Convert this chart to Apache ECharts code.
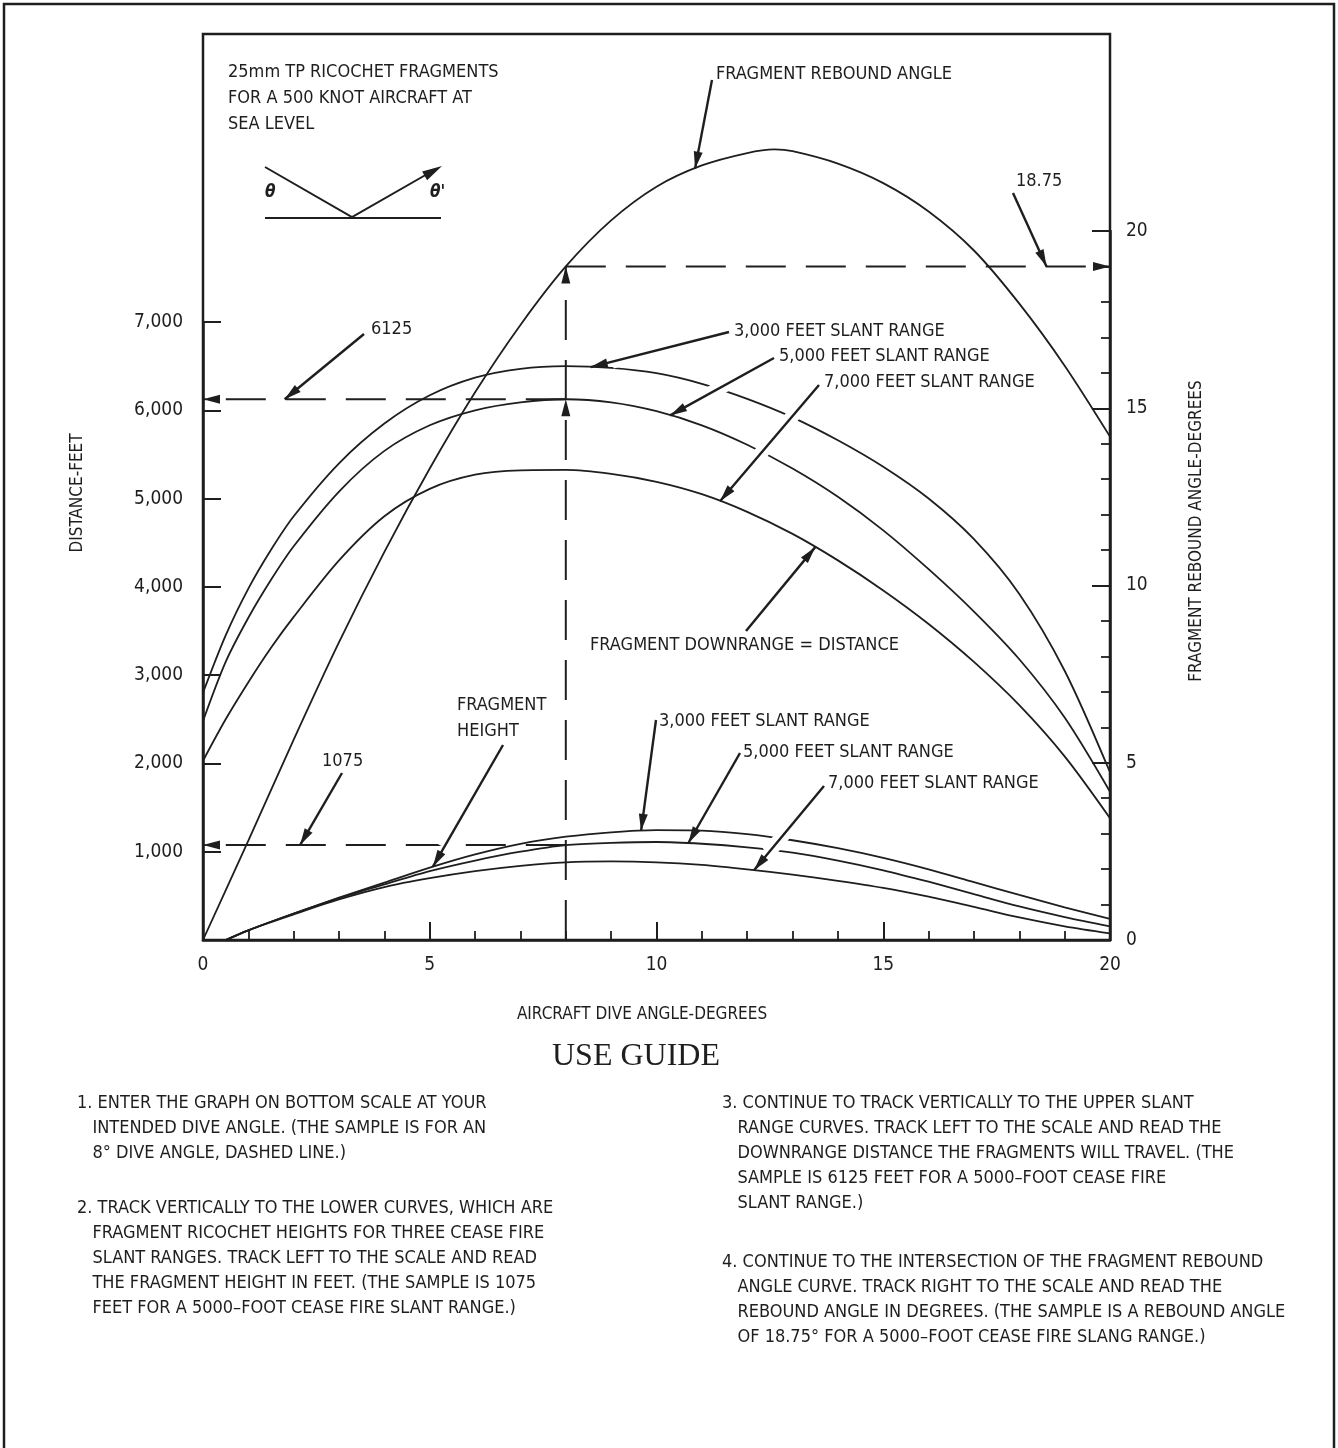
<!DOCTYPE html>
<html><head><meta charset="utf-8">
<script src="https://cdn.jsdelivr.net/npm/echarts@6/dist/echarts.min.js"></script>
<style>html,body{margin:0;padding:0;background:#fff}#c{width:1338px;height:1448px}</style>
</head><body><div id="c"></div>
<script>
// ---------------- DATA ----------------
const distAngles = [0,0.5,1,1.5,2,3,4,5,6,7,8,9,10,11,12,13,14,15,16,17,18,19,20];
const dist3000 = [2800,3450,3980,4420,4800,5400,5850,6170,6370,6470,6500,6480,6420,6300,6130,5920,5660,5360,5000,4540,3920,3050,1900];
const dist5000 = [2480,3150,3650,4080,4460,5080,5540,5830,6000,6090,6125,6090,5990,5830,5610,5340,5020,4640,4200,3720,3180,2520,1680];
const dist7000 = [2030,2500,2920,3310,3660,4300,4800,5110,5270,5320,5325,5280,5190,5050,4850,4600,4300,3960,3580,3150,2660,2080,1380];

const heightAngles = [0.5,1,2,3,4,5,6,7,8,9,10,11,12,13,14,15,16,17,18,19,20];
const height3000 = [0,110,300,480,650,820,970,1090,1170,1220,1245,1240,1200,1130,1040,930,800,655,510,370,240];
const height5000 = [0,110,300,475,630,780,900,1000,1075,1100,1110,1090,1050,990,900,790,660,520,380,260,155];
const height7000 = [0,110,290,460,600,700,780,840,880,890,880,850,800,740,670,590,490,375,255,155,75];

const reboundAngles = [0,1,2,3,4,5,6,7,8,9,10,11,12,12.6,13,14,15,16,17,18,19,20];
const reboundValues = [0,2.8,5.65,8.4,10.95,13.3,15.45,17.35,19.0,20.3,21.25,21.85,22.2,22.3,22.25,21.9,21.35,20.55,19.45,17.95,16.2,14.2];

const distTicks = [0,1000,2000,3000,4000,5000,6000,7000];
const angleTicks = [0,5,10,15,20];

// sample (dashed) guide
const sampleDive = 8;
const sampleHeight = 1075;
const sampleDistance = 6125;
const sampleRebound = 19.0;      // level drawn on the right scale
const sampleReboundLabel = '18.75';

const titleLines = ['25mm TP RICOCHET FRAGMENTS','FOR A 500 KNOT AIRCRAFT AT','SEA LEVEL'];
const guide1 = ['1. ENTER THE GRAPH ON BOTTOM SCALE AT YOUR','   INTENDED DIVE ANGLE. (THE SAMPLE IS FOR AN','   8° DIVE ANGLE, DASHED LINE.)'];
const guide2 = ['2. TRACK VERTICALLY TO THE LOWER CURVES, WHICH ARE','   FRAGMENT RICOCHET HEIGHTS FOR THREE CEASE FIRE','   SLANT RANGES. TRACK LEFT TO THE SCALE AND READ','   THE FRAGMENT HEIGHT IN FEET. (THE SAMPLE IS 1075','   FEET FOR A 5000–FOOT CEASE FIRE SLANT RANGE.)'];
const guide3 = ['3. CONTINUE TO TRACK VERTICALLY TO THE UPPER SLANT','   RANGE CURVES. TRACK LEFT TO THE SCALE AND READ THE','   DOWNRANGE DISTANCE THE FRAGMENTS WILL TRAVEL. (THE','   SAMPLE IS 6125 FEET FOR A 5000–FOOT CEASE FIRE','   SLANT RANGE.)'];
const guide4 = ['4. CONTINUE TO THE INTERSECTION OF THE FRAGMENT REBOUND','   ANGLE CURVE. TRACK RIGHT TO THE SCALE AND READ THE','   REBOUND ANGLE IN DEGREES. (THE SAMPLE IS A REBOUND ANGLE','   OF 18.75° FOR A 5000–FOOT CEASE FIRE SLANG RANGE.)'];

// ---------------- STYLE / LAYOUT ----------------
const INK = '#1e1e1e';
const FONT = '"Liberation Sans Narrow","DejaVu Sans Condensed","Arial Narrow",sans-serif';
const PL = 203, PT = 34, PW = 907, PB = 940;

const chart = echarts.init(document.getElementById('c'), null, {renderer:'canvas'});
const pair = (xs, ys) => xs.map((x,i)=>[x, ys[i]]);
const fmt = v => String(v).replace(/\B(?=(\d{3})+(?!\d))/g, ',');

function curve(name, xs, ys, gi){
  return {name, type:'line', xAxisIndex:gi, yAxisIndex:gi, data:pair(xs,ys), smooth:0.3,
    showSymbol:false, symbol:'none', clip:false, silent:true,
    lineStyle:{color:INK, width:1.8}};
}
const dashStyle = {color:INK, width:2, type:[40,20]};

chart.setOption({
  animation:false,
  backgroundColor:'#fff',
  grid:[
    {left:PL, top:322, width:PW, height:PB-322, show:false},
    {left:PL, top:231, width:PW, height:PB-231, show:false},
    {left:PL, top:PT, width:PW, height:PB-PT, show:true, borderColor:INK, borderWidth:2.5, backgroundColor:'transparent'}
  ],
  xAxis:[
    {gridIndex:0, type:'value', min:0, max:20, interval:5, position:'bottom',
     axisLine:{show:true, onZero:false, lineStyle:{color:INK, width:2.5}},
     axisTick:{show:true, inside:true, length:18, lineStyle:{color:INK, width:2}},
     minorTick:{show:true, splitNumber:5, length:9, lineStyle:{color:INK, width:1.8}},
     axisLabel:{color:INK, fontSize:19, fontFamily:FONT, margin:16},
     splitLine:{show:false}, minorSplitLine:{show:false}},
    {gridIndex:1, type:'value', min:0, max:20, show:false},
    {gridIndex:2, type:'value', min:0, max:20, show:false}
  ],
  yAxis:[
    {gridIndex:0, type:'value', min:0, max:7000, interval:1000, position:'left',
     axisLine:{show:true, onZero:false, lineStyle:{color:INK, width:2.5}},
     axisTick:{show:true, inside:true, length:18, lineStyle:{color:INK, width:2}, customValues:distTicks},
     axisLabel:{color:INK, fontSize:19, fontFamily:FONT, margin:20, formatter:fmt, customValues:distTicks.slice(1)},
     splitLine:{show:false}},
    {gridIndex:1, type:'value', min:0, max:20, interval:5, position:'right',
     axisLine:{show:true, onZero:false, lineStyle:{color:INK, width:2.5}},
     axisTick:{show:true, inside:true, length:18, lineStyle:{color:INK, width:2}, customValues:angleTicks},
     minorTick:{show:true, splitNumber:5, length:9, lineStyle:{color:INK, width:1.8}},
     axisLabel:{color:INK, fontSize:19, fontFamily:FONT, margin:16},
     splitLine:{show:false}, minorSplitLine:{show:false}},
    {gridIndex:2, type:'value', min:0, max:1, show:false}
  ],
  series:[
    curve('3,000 ft distance', distAngles, dist3000, 0),
    curve('5,000 ft distance', distAngles, dist5000, 0),
    curve('7,000 ft distance', distAngles, dist7000, 0),
    curve('3,000 ft height', heightAngles, height3000, 0),
    curve('5,000 ft height', heightAngles, height5000, 0),
    curve('7,000 ft height', heightAngles, height7000, 0),
    curve('Fragment rebound angle', reboundAngles, reboundValues, 1),
    {type:'line', xAxisIndex:1, yAxisIndex:1, data:[[sampleDive,0],[sampleDive,sampleRebound]], showSymbol:false, symbol:'none', lineStyle:dashStyle, silent:true},
    {type:'line', xAxisIndex:1, yAxisIndex:1, data:[[sampleDive,sampleRebound],[20,sampleRebound]], showSymbol:false, symbol:'none', lineStyle:dashStyle, silent:true},
    {type:'line', xAxisIndex:0, yAxisIndex:0, data:[[sampleDive,sampleDistance],[0,sampleDistance]], showSymbol:false, symbol:'none', lineStyle:dashStyle, silent:true},
    {type:'line', xAxisIndex:0, yAxisIndex:0, data:[[sampleDive,sampleHeight],[0,sampleHeight]], showSymbol:false, symbol:'none', lineStyle:dashStyle, silent:true}
  ]
});

// ---------------- ANNOTATIONS ----------------
function valAt(xs, ys, x){
  for(let i=0;i<xs.length-1;i++){
    if(x>=xs[i] && x<=xs[i+1]){ const t=(x-xs[i])/(xs[i+1]-xs[i]); return ys[i]+t*(ys[i+1]-ys[i]); }
  }
  return ys[ys.length-1];
}
const L = (x,y)=>chart.convertToPixel({xAxisIndex:0,yAxisIndex:0},[x,y]);
const R = (x,y)=>chart.convertToPixel({xAxisIndex:1,yAxisIndex:1},[x,y]);

const g = [];
function text(t, x, y, opt){
  g.push({type:'text', x, y, rotation:(opt&&opt.rot)||0, z:20, silent:true,
    style:Object.assign({text:t, x:0, y:0, fill:INK, fontSize:18, fontFamily:FONT, textAlign:'left', textVerticalAlign:'middle'}, (opt&&opt.style)||{})});
}
function head(tip, from, len, hw){
  len = len||17; hw = hw||4.5;
  const dx=tip[0]-from[0], dy=tip[1]-from[1], d=Math.hypot(dx,dy), ux=dx/d, uy=dy/d;
  const bx=tip[0]-ux*len, by=tip[1]-uy*len;
  g.push({type:'polygon', z:12, silent:true, shape:{points:[tip,[bx-uy*hw,by+ux*hw],[bx+uy*hw,by-ux*hw]]}, style:{fill:INK}});
}
function arrow(from, tip, w){
  const dx=tip[0]-from[0], dy=tip[1]-from[1], d=Math.hypot(dx,dy);
  const s = 6/d, e = (d-22)/d;
  // white break where the leader crosses other curves (drafting convention)
  g.push({type:'line', z:10, silent:true, shape:{x1:from[0]+dx*s,y1:from[1]+dy*s,x2:from[0]+dx*e,y2:from[1]+dy*e}, style:{stroke:'#fff', lineWidth:14}});
  g.push({type:'line', z:11, silent:true, shape:{x1:from[0],y1:from[1],x2:tip[0],y2:tip[1]}, style:{stroke:INK, lineWidth:w||2.4}});
  head(tip, from);
}

// outer frame
g.push({type:'rect', silent:true, shape:{x:4,y:4,width:1330,height:1470}, style:{fill:'none', stroke:INK, lineWidth:2.5}});

// title
titleLines.forEach((t,i)=>text(t, 228, 72+26*i));
// theta diagram
g.push({type:'polyline', silent:true, shape:{points:[[265,167],[352,217],[436,169]]}, style:{stroke:INK, fill:'none', lineWidth:2}});
head([442,166],[352,217],20,5);
g.push({type:'line', silent:true, shape:{x1:265,y1:218,x2:441,y2:218}, style:{stroke:INK, lineWidth:2}});
text('θ', 265, 193, {style:{fontStyle:'italic', fontWeight:'bold', fontSize:17}});
text('θ\'', 430, 193, {style:{fontStyle:'italic', fontWeight:'bold', fontSize:17}});

// guide arrowheads
head(R(sampleDive, sampleRebound), R(sampleDive, 0));
head(L(sampleDive, sampleDistance), L(sampleDive, 0));
head(L(0, sampleDistance), L(sampleDive, sampleDistance));
head(L(0, sampleHeight), L(sampleDive, sampleHeight));
head(R(20, sampleRebound), R(sampleDive, sampleRebound));

// labels + leaders
text('FRAGMENT REBOUND ANGLE', 716, 74);
arrow([712,80], R(10.85, valAt(reboundAngles, reboundValues, 10.85)));
text(sampleReboundLabel, 1016, 181);
arrow([1013,193], R(18.6, sampleRebound));
text(String(sampleDistance), 371, 329);
arrow([364,334], L(1.8, sampleDistance));
text('3,000 FEET SLANT RANGE', 734, 331);
arrow([729,332], L(8.55, valAt(distAngles, dist3000, 8.55)));
text('5,000 FEET SLANT RANGE', 779, 356);
arrow([774,358], L(10.3, valAt(distAngles, dist5000, 10.3)));
text('7,000 FEET SLANT RANGE', 824, 382);
arrow([819,385], L(11.4, valAt(distAngles, dist7000, 11.4)));
text('FRAGMENT DOWNRANGE = DISTANCE', 590, 645);
arrow([746,631], L(13.5, valAt(distAngles, dist7000, 13.5)));
text('FRAGMENT', 457, 705);
text('HEIGHT', 457, 731);
arrow([503,745], L(5.07, valAt(heightAngles, height3000, 5.07)));
text(String(sampleHeight), 322, 761);
arrow([342,773], L(2.14, sampleHeight));
text('3,000 FEET SLANT RANGE', 659, 721);
arrow([656,720], L(9.66, valAt(heightAngles, height3000, 9.66)));
text('5,000 FEET SLANT RANGE', 743, 752);
arrow([740,753], L(10.7, valAt(heightAngles, height5000, 10.7)));
text('7,000 FEET SLANT RANGE', 828, 783);
arrow([824,786], L(12.15, valAt(heightAngles, height7000, 12.15)));

// axis names
text('DISTANCE-FEET', 78, 493, {rot:Math.PI/2, style:{textAlign:'center', fontSize:17}});
text('FRAGMENT REBOUND ANGLE-DEGREES', 1197, 531, {rot:Math.PI/2, style:{textAlign:'center', fontSize:17}});
text('AIRCRAFT DIVE ANGLE-DEGREES', 642, 1015, {style:{textAlign:'center', fontSize:17}});
text('USE GUIDE', 636, 1057, {style:{textAlign:'center', fontSize:32, fontFamily:'"Liberation Serif","DejaVu Serif",serif'}});

// guide text
const LH = 25;
guide1.forEach((t,i)=>text(t, 77, 1103+LH*i, {style:{fontSize:18}}));
guide2.forEach((t,i)=>text(t, 77, 1208+LH*i, {style:{fontSize:18}}));
guide3.forEach((t,i)=>text(t, 722, 1103+LH*i, {style:{fontSize:18}}));
guide4.forEach((t,i)=>text(t, 722, 1262+LH*i, {style:{fontSize:18}}));

chart.setOption({graphic:g});
</script>
</body></html>
